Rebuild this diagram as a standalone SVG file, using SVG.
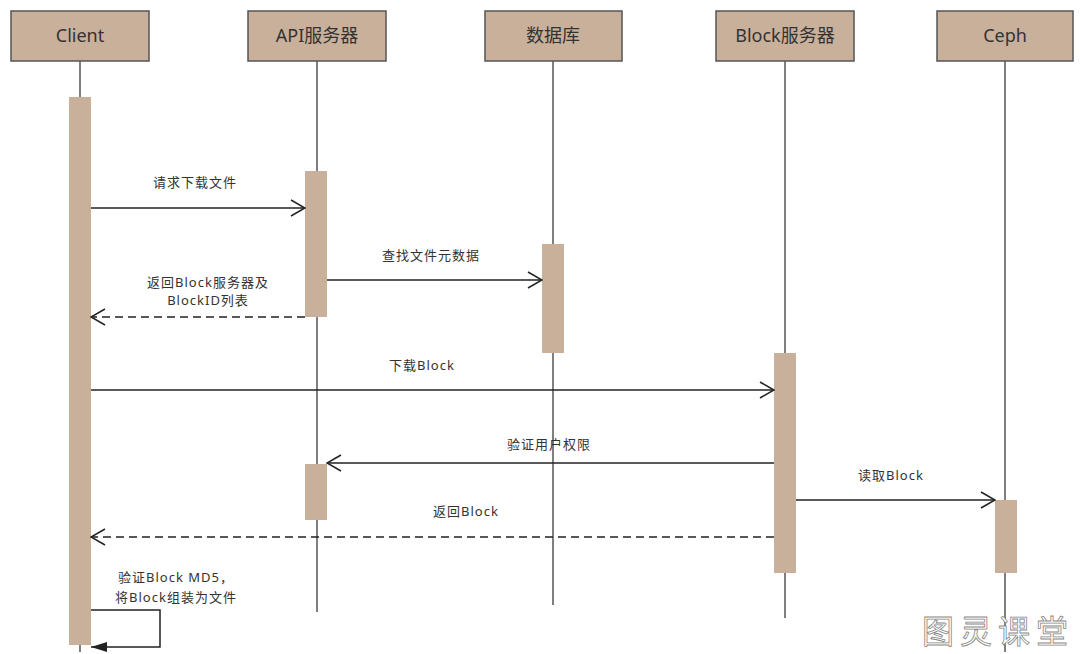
<svg xmlns="http://www.w3.org/2000/svg" width="1080" height="654" viewBox="0 0 1080 654">
<defs>
<marker id="open" viewBox="0 0 16 18" refX="15" refY="9" markerWidth="16" markerHeight="18" markerUnits="userSpaceOnUse" orient="auto">
<path d="M1,1 L15,9 L1,17" fill="none" stroke="#222" stroke-width="1.5"/>
</marker>
<marker id="filled" viewBox="0 0 16 10" refX="16" refY="5" markerWidth="16" markerHeight="10" markerUnits="userSpaceOnUse" orient="auto">
<path d="M0,0 L16,5 L0,10 Z" fill="#222"/>
</marker>
</defs>
<style>
.head{fill:#c9b09a;stroke:#555;stroke-width:1.5}
.ht{font-family:"Noto Sans","Noto Sans CJK SC",sans-serif;font-size:18px;fill:#333;text-anchor:middle}
.life{stroke:#555;stroke-width:1.5;fill:none}
.act{fill:#c9b09a}
.msg{stroke:#222;stroke-width:1.5;fill:none}
.dash{stroke-dasharray:8 5}
.lbl{font-family:"Noto Sans","Noto Sans CJK SC",sans-serif;font-size:13px;fill:#333;text-anchor:middle;letter-spacing:1px}
.wm{font-family:"Noto Sans CJK SC",sans-serif;font-size:32px;fill:#fff;stroke:#888;stroke-width:0.8;letter-spacing:6px}
</style>
<rect width="1080" height="654" fill="#fff"/>
<g id="client">
<line class="life" x1="80" y1="61" x2="80" y2="652"/>
<rect class="head" x="11" y="11" width="138" height="50"/>
<text class="ht" x="80" y="42">Client</text>
<rect class="act" x="69" y="97" width="22" height="548"/>
</g>
<g id="api">
<line class="life" x1="317" y1="61" x2="317" y2="612"/>
<rect class="head" x="248" y="11" width="138" height="50"/>
<text class="ht" x="317" y="42">API服务器</text>
<rect class="act" x="305" y="171" width="22" height="146"/>
<rect class="act" x="305" y="464" width="22" height="56"/>
</g>
<g id="db">
<line class="life" x1="553" y1="61" x2="553" y2="605"/>
<rect class="head" x="485" y="11" width="137" height="50"/>
<text class="ht" x="553" y="42">数据库</text>
<rect class="act" x="542" y="244" width="22" height="109"/>
</g>
<g id="block">
<line class="life" x1="785" y1="61" x2="785" y2="618"/>
<rect class="head" x="716" y="11" width="138" height="50"/>
<text class="ht" x="785" y="42">Block服务器</text>
<rect class="act" x="774" y="353" width="22" height="220"/>
</g>
<g id="ceph">
<line class="life" x1="1005" y1="61" x2="1005" y2="652"/>
<rect class="head" x="937" y="11" width="136" height="50"/>
<text class="ht" x="1005" y="42">Ceph</text>
<rect class="act" x="995" y="500" width="22" height="73"/>
</g>
<g id="connectors">
<line class="msg" x1="91" y1="208" x2="305" y2="208" marker-end="url(#open)"/>
<text class="lbl" x="195" y="187">请求下载文件</text>
<line class="msg" x1="327" y1="280" x2="542" y2="280" marker-end="url(#open)"/>
<text class="lbl" x="431" y="260">查找文件元数据</text>
<line class="msg dash" x1="305" y1="317" x2="91" y2="317" marker-end="url(#open)"/>
<text class="lbl" x="208" y="287">返回Block服务器及</text>
<text class="lbl" x="208" y="305">BlockID列表</text>
<line class="msg" x1="91" y1="390" x2="774" y2="390" marker-end="url(#open)"/>
<text class="lbl" x="422" y="370">下载Block</text>
<line class="msg" x1="774" y1="463" x2="327" y2="463" marker-end="url(#open)"/>
<text class="lbl" x="549" y="449">验证用户权限</text>
<line class="msg" x1="796" y1="500" x2="995" y2="500" marker-end="url(#open)"/>
<text class="lbl" x="891" y="480">读取Block</text>
<line class="msg dash" x1="774" y1="537" x2="91" y2="537" marker-end="url(#open)"/>
<text class="lbl" x="466" y="516">返回Block</text>
<polyline class="msg" points="91,610 160,610 160,647 91,647" marker-end="url(#filled)"/>
<text class="lbl" x="176" y="582">验证Block MD5，</text>
<text class="lbl" x="176" y="602">将Block组装为文件</text>
</g>
<text class="wm" x="922" y="643">图灵课堂</text>
</svg>
